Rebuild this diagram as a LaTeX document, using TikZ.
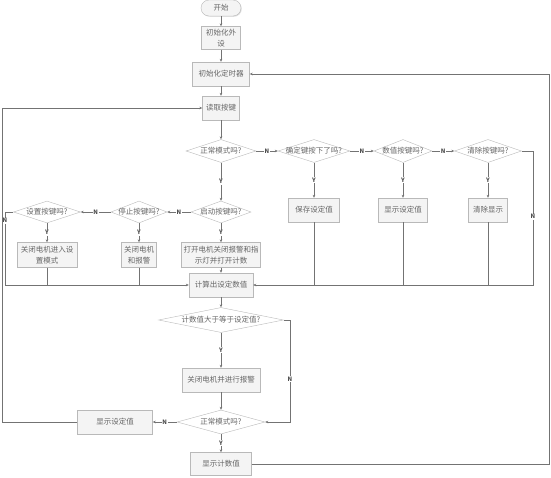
\documentclass[tikz,border=0pt]{standalone}
\usepackage{fontspec}
\setmainfont{Noto Sans CJK SC}
\usetikzlibrary{shapes.geometric,arrows.meta,shadows}
\newcommand{\fcTxt}[1]{\makebox[0pt]{#1}}
\begin{document}
\begin{tikzpicture}[x=1pt, y=-1pt,
    fcBoxStyle/.style={draw=gray!55, fill=gray!9, inner sep=0pt, align=center, text=black!60,
        font=\fontsize{7.5}{10.5}\selectfont, drop shadow={shadow xshift=0.8pt, shadow yshift=-0.8pt, opacity=0.25}},
    fcTermStyle/.style={fcBoxStyle, rounded corners=8pt},
    fcDecStyle/.style={draw=gray!55, fill=white, diamond, inner sep=0pt, text=black!60,
        font=\fontsize{7.5}{10.5}\selectfont},
    fcLineStyle/.style={draw=black!55, line width=0.5pt},
    fcArrowStyle/.style={fcLineStyle, -{Stealth[length=3pt, width=2.6pt]}},
    fcLblStyle/.style={fill=white, inner sep=0.8pt, text=black!70, font=\fontsize{6}{6}\selectfont\bfseries}]
    \useasboundingbox (0,0) rectangle (551,477);

    % main column
    \node[fcTermStyle, minimum width=40pt, minimum height=16pt] (fcStart) at (221,8) {开始};
    \node[fcBoxStyle, minimum width=39pt, minimum height=23pt] (fcInitDev) at (221,38) {初始化外\\设};
    \node[fcBoxStyle, minimum width=57pt, minimum height=24pt] (fcTimer) at (221,74) {初始化定时器};
    \node[fcBoxStyle, minimum width=37pt, minimum height=24pt] (fcRead) at (221,108) {读取按键};
    \node[fcDecStyle, minimum width=70pt, minimum height=23pt] (fcMode) at (221,151) {\fcTxt{正常模式吗?}};

    % key tests, right branch
    \node[fcDecStyle, minimum width=72pt, minimum height=23pt] (fcOkQ) at (314,151) {\fcTxt{确定键按下了吗?}};
    \node[fcDecStyle, minimum width=58pt, minimum height=23pt] (fcNumQ) at (403,151) {\fcTxt{数值按键吗?}};
    \node[fcDecStyle, minimum width=67pt, minimum height=23pt] (fcClrQ) at (488,151) {\fcTxt{清除按键吗?}};
    \node[fcBoxStyle, minimum width=51pt, minimum height=24pt] (fcSave) at (314,210) {保存设定值};
    \node[fcBoxStyle, minimum width=49pt, minimum height=24pt] (fcShowSet) at (403,210) {显示设定值};
    \node[fcBoxStyle, minimum width=39pt, minimum height=24pt] (fcClear) at (488,210) {清除显示};

    % key tests, left branch
    \node[fcDecStyle, minimum width=60pt, minimum height=22pt] (fcStartQ) at (221,212) {\fcTxt{启动按键吗?}};
    \node[fcDecStyle, minimum width=56pt, minimum height=22pt] (fcStopQ) at (139,212) {\fcTxt{停止按键吗?}};
    \node[fcDecStyle, minimum width=67pt, minimum height=22pt] (fcSetQ) at (47,212) {\fcTxt{设置按键吗?}};
    \node[fcBoxStyle, minimum width=60pt, minimum height=25pt] (fcSetMode) at (47,255) {关闭电机进入设\\置模式};
    \node[fcBoxStyle, minimum width=35pt, minimum height=25pt] (fcStopMotor) at (139,255) {关闭电机\\和报警};
    \node[fcBoxStyle, minimum width=79pt, minimum height=25pt] (fcRun) at (221,255) {打开电机关闭报警和指\\示灯并打开计数};

    % counting part
    \node[fcBoxStyle, minimum width=64pt, minimum height=24pt] (fcCalc) at (221,285) {计算出设定数值};
    \node[fcDecStyle, minimum width=125pt, minimum height=25pt] (fcCmp) at (221,320) {\fcTxt{计数值大于等于设定值?}};
    \node[fcBoxStyle, minimum width=78pt, minimum height=24pt] (fcAlarm) at (221,380) {关闭电机并进行报警};
    \node[fcDecStyle, minimum width=88pt, minimum height=24pt] (fcMode2) at (221,422) {\fcTxt{正常模式吗?}};
    \node[fcBoxStyle, minimum width=75pt, minimum height=24pt] (fcShowSet2) at (115,422) {显示设定值};
    \node[fcBoxStyle, minimum width=61pt, minimum height=23pt] (fcShowCnt) at (221,464) {显示计数值};

    \coordinate (leftN) at (5,212);
    \coordinate (rightN) at (533,151);
    \coordinate (cmpN) at (290,320);
    \coordinate (outerL) at (2,108);
    \coordinate (outerR) at (549,74);

    \draw[fcArrowStyle] (fcStart) -- (fcInitDev);
    \draw[fcArrowStyle] (fcInitDev) -- (fcTimer);
    \draw[fcArrowStyle] (fcTimer) -- (fcRead);
    \draw[fcArrowStyle] (fcRead) -- (fcMode);
    \draw[fcArrowStyle] (fcMode.east) -- node[fcLblStyle] {N} (fcOkQ.west);
    \draw[fcArrowStyle] (fcOkQ.east) -- node[fcLblStyle] {N} (fcNumQ.west);
    \draw[fcArrowStyle] (fcNumQ.east) -- node[fcLblStyle] {N} (fcClrQ.west);
    \draw[fcArrowStyle] (fcOkQ.south) -- node[fcLblStyle] {Y} (fcSave.north);
    \draw[fcArrowStyle] (fcNumQ.south) -- node[fcLblStyle] {Y} (fcShowSet.north);
    \draw[fcArrowStyle] (fcClrQ.south) -- node[fcLblStyle] {Y} (fcClear.north);
    \draw[fcArrowStyle] (fcMode.south) -- node[fcLblStyle] {Y} (fcStartQ.north);
    \draw[fcArrowStyle] (fcStartQ.west) -- node[fcLblStyle] {N} (fcStopQ.east);
    \draw[fcArrowStyle] (fcStopQ.west) -- node[fcLblStyle] {N} (fcSetQ.east);
    \draw[fcArrowStyle] (fcStartQ.south) -- node[fcLblStyle] {Y} (fcRun.north);
    \draw[fcArrowStyle] (fcStopQ.south) -- node[fcLblStyle] {Y} (fcStopMotor.north);
    \draw[fcArrowStyle] (fcSetQ.south) -- node[fcLblStyle] {Y} (fcSetMode.north);
    \draw[fcArrowStyle] (fcRun) -- (fcCalc);

    % gathering lines
    \draw[fcArrowStyle] (fcSetQ.west) -- (leftN) |- node[fcLblStyle, pos=0.06] {N} (fcCalc.west);
    \draw[fcLineStyle] (fcSetMode.south) -- (fcSetMode.south |- fcCalc.west);
    \draw[fcLineStyle] (fcStopMotor.south) -- (fcStopMotor.south |- fcCalc.west);
    \draw[fcArrowStyle] (fcClrQ.east) -- (rightN) |- node[fcLblStyle, pos=0.245] {N} (fcCalc.east);
    \draw[fcLineStyle] (fcSave.south) -- (fcSave.south |- fcCalc.east);
    \draw[fcLineStyle] (fcShowSet.south) -- (fcShowSet.south |- fcCalc.east);
    \draw[fcLineStyle] (fcClear.south) -- (fcClear.south |- fcCalc.east);

    \draw[fcArrowStyle] (fcCalc) -- (fcCmp);
    \draw[fcArrowStyle] (fcCmp.south) -- node[fcLblStyle] {Y} (fcAlarm.north);
    \draw[fcArrowStyle] (fcCmp.east) -- (cmpN) |- node[fcLblStyle, pos=0.29] {N} (fcMode2.east);
    \draw[fcArrowStyle] (fcAlarm) -- (fcMode2);
    \draw[fcArrowStyle] (fcMode2.west) -- node[fcLblStyle] {N} (fcShowSet2.east);
    \draw[fcArrowStyle] (fcMode2.south) -- node[fcLblStyle] {Y} (fcShowCnt.north);

    % loops back
    \draw[fcArrowStyle] (fcShowSet2.west) -| (outerL) -- (fcRead.west);
    \draw[fcArrowStyle] (fcShowCnt.east) -| (outerR) -- (fcTimer.east);
\end{tikzpicture}
\end{document}
